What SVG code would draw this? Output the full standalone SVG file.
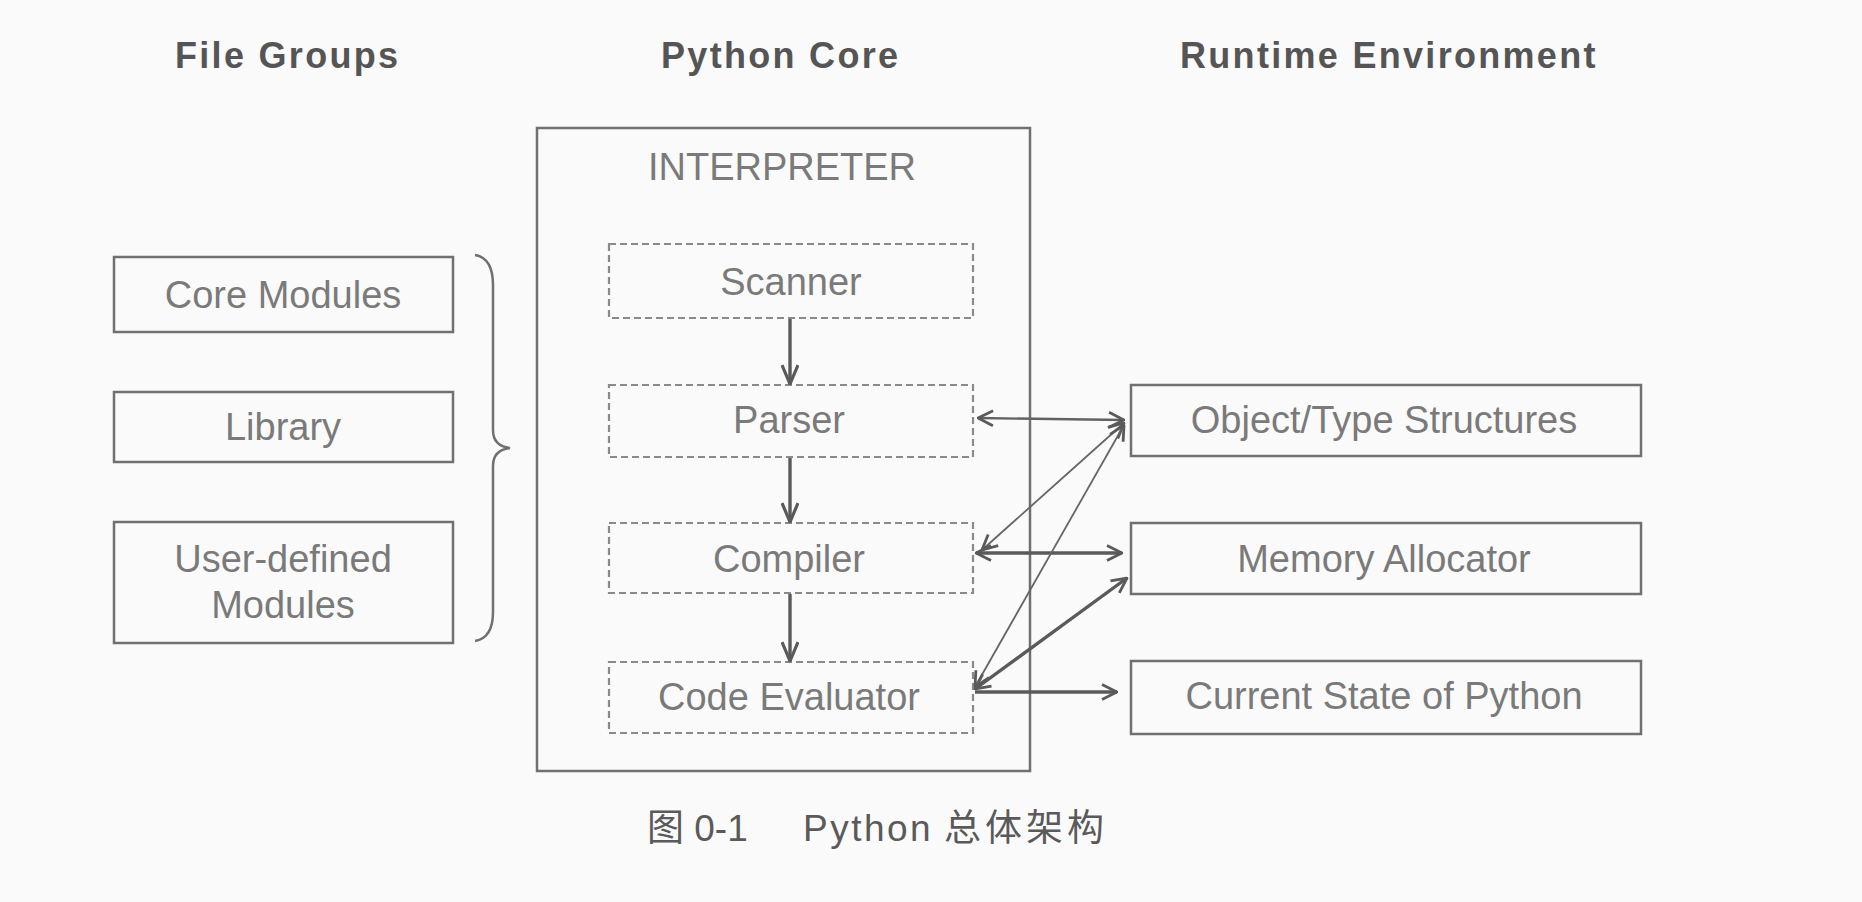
<svg xmlns="http://www.w3.org/2000/svg" width="1862" height="902" viewBox="0 0 1862 902">
  <defs>
    <style>
      .title { font-family: "Liberation Sans", Arial, sans-serif; font-weight: bold; font-size: 36px; fill: #555; letter-spacing: 2.3px; }
      .lbl { font-family: "Liberation Sans", Arial, sans-serif; font-size: 38px; fill: #7a7a7a; text-anchor: middle; }
      .box { fill: none; stroke: #707070; stroke-width: 2.5; }
      .dbox { fill: none; stroke: #8a8a8a; stroke-width: 2.2; stroke-dasharray: 7 4; }
      .thin { fill: none; stroke: #666; stroke-width: 1.8; }
      .mid { fill: none; stroke: #626262; stroke-width: 2.3; }
      .thick { fill: none; stroke: #5a5a5a; stroke-width: 3.4; }
      .cap { font-family: "Liberation Sans", Arial, "Noto Sans CJK SC", sans-serif; font-size: 37px; fill: #5a5a5a; }
    </style>
    <marker id="ah" viewBox="0 0 18 18" refX="17" refY="9" markerWidth="18" markerHeight="18" markerUnits="userSpaceOnUse" orient="auto-start-reverse">
      <path d="M2,1.5 L17,9 L2,16.5" fill="none" stroke="#5a5a5a" stroke-width="2.8" stroke-linejoin="miter"/>
    </marker>
    <marker id="ahv" viewBox="0 0 22 18" refX="21" refY="9" markerWidth="22" markerHeight="18" markerUnits="userSpaceOnUse" orient="auto">
      <path d="M2,1 L21,9 L2,17" fill="none" stroke="#5a5a5a" stroke-width="3.2" stroke-linejoin="miter"/>
    </marker>
  </defs>

  <rect x="0" y="0" width="1862" height="902" fill="#fafafa"/>

  <g id="titles">
    <text class="title" x="175" y="68">File Groups</text>
    <text class="title" x="661" y="68">Python Core</text>
    <text class="title" x="1180" y="68">Runtime Environment</text>
  </g>

  <g id="core-modules">
    <rect class="box" x="114" y="257" width="339" height="75"/>
    <text class="lbl" x="283" y="308">Core Modules</text>
  </g>
  <g id="library">
    <rect class="box" x="114" y="392" width="339" height="70"/>
    <text class="lbl" x="283" y="440">Library</text>
  </g>
  <g id="user-defined-modules">
    <rect class="box" x="114" y="522" width="339" height="121"/>
    <text class="lbl" x="283" y="572">User-defined</text>
    <text class="lbl" x="283" y="618">Modules</text>
  </g>
  <g id="brace">
    <path d="M475,255 Q493,258 493,285 L493,430 Q493,446 510,448 Q493,450 493,466 L493,612 Q493,638 475,641" fill="none" stroke="#707070" stroke-width="2.5"/>
  </g>

  <g id="interpreter">
    <rect class="box" x="537" y="128" width="493" height="643"/>
    <text class="lbl" x="782" y="180">INTERPRETER</text>
  </g>
  <g id="scanner">
    <rect class="dbox" x="609" y="244" width="364" height="74"/>
    <text class="lbl" x="791" y="295">Scanner</text>
  </g>
  <g id="parser">
    <rect class="dbox" x="609" y="385" width="364" height="72"/>
    <text class="lbl" x="789" y="433">Parser</text>
  </g>
  <g id="compiler">
    <rect class="dbox" x="609" y="523" width="364" height="70"/>
    <text class="lbl" x="789" y="572">Compiler</text>
  </g>
  <g id="code-evaluator">
    <rect class="dbox" x="609" y="662" width="364" height="71"/>
    <text class="lbl" x="789" y="710">Code Evaluator</text>
  </g>

  <g id="object-type-structures">
    <rect class="box" x="1131" y="385" width="510" height="71"/>
    <text class="lbl" x="1384" y="433">Object/Type Structures</text>
  </g>
  <g id="memory-allocator">
    <rect class="box" x="1131" y="523" width="510" height="71"/>
    <text class="lbl" x="1384" y="572">Memory Allocator</text>
  </g>
  <g id="current-state">
    <rect class="box" x="1131" y="661" width="510" height="73"/>
    <text class="lbl" x="1384" y="709">Current State of Python</text>
  </g>

  <g id="connectors">
    <line class="thick" x1="790" y1="319" x2="790" y2="384" marker-end="url(#ahv)"/>
    <line class="thick" x1="790" y1="458" x2="790" y2="522" marker-end="url(#ahv)"/>
    <line class="thick" x1="790" y1="594" x2="790" y2="661" marker-end="url(#ahv)"/>

    <line class="mid" x1="978" y1="418" x2="1124" y2="420" marker-start="url(#ah)" marker-end="url(#ah)"/>
    <line class="thin" x1="982" y1="550" x2="1124" y2="423" marker-start="url(#ah)" marker-end="url(#ah)"/>
    <line class="thick" x1="976" y1="553" x2="1122" y2="553" marker-start="url(#ah)" marker-end="url(#ah)"/>
    <line class="thin" x1="975" y1="687" x2="1124" y2="425" marker-start="url(#ah)" marker-end="url(#ah)"/>
    <line class="thick" x1="975" y1="689" x2="1127" y2="578" marker-start="url(#ah)" marker-end="url(#ah)"/>
    <line class="thick" x1="975" y1="692" x2="1117" y2="692" marker-end="url(#ah)"/>
  </g>

  <g id="caption">
    <text class="cap" x="647" y="841">图 0-1</text>
    <text class="cap" x="803" y="841" letter-spacing="2.5">Python</text>
    <text class="cap" x="944" y="841" letter-spacing="4">总体架构</text>
  </g>
</svg>
